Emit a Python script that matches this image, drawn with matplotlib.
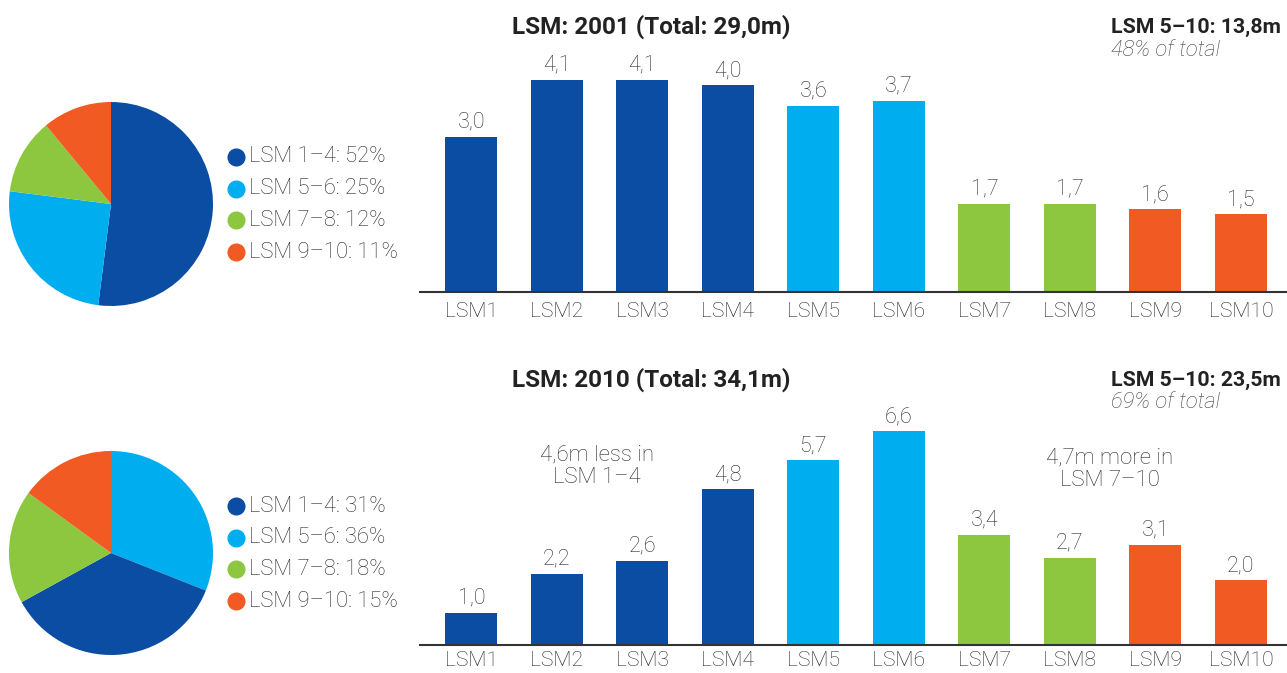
import matplotlib.pyplot as plt
from matplotlib.lines import Line2D

plt.rcParams['font.family'] = ['Roboto', 'DejaVu Sans']

DARK = '#0B4DA2'
LIGHT = '#00AEEF'
GREEN = '#8DC63F'
ORANGE = '#F15A22'
GREY = '#2b2b2b'

categories = ['LSM1', 'LSM2', 'LSM3', 'LSM4', 'LSM5', 'LSM6', 'LSM7', 'LSM8', 'LSM9', 'LSM10']
bar_colors = [DARK] * 4 + [LIGHT] * 2 + [GREEN] * 2 + [ORANGE] * 2

values_2001 = [3.0, 4.1, 4.1, 4.0, 3.6, 3.7, 1.7, 1.7, 1.6, 1.5]
values_2010 = [1.0, 2.2, 2.6, 4.8, 5.7, 6.6, 3.4, 2.7, 3.1, 2.0]

groups = ['LSM 1–4', 'LSM 5–6', 'LSM 7–8', 'LSM 9–10']
group_colors = [DARK, LIGHT, GREEN, ORANGE]
share_2001 = [52, 25, 12, 11]
share_2010 = [31, 36, 18, 15]
# the 2010 pie in the source draws its first two wedges with swapped colours
wedge_colors_2010 = [LIGHT, DARK, GREEN, ORANGE]

W, H = 1287, 673
fig = plt.figure(figsize=(W / 100, H / 100), dpi=100)


def px_axes(left, top, right, bottom):
    return fig.add_axes([left / W, 1 - bottom / H, (right - left) / W, (bottom - top) / H])


def bar_panel(top, base, ymax, values, pad):
    ax = px_axes(420, top, 1287, base)
    x = range(len(categories))
    bars = ax.bar(x, values, width=0.61, color=bar_colors)
    for b, v in zip(bars, values):
        ax.annotate(f'{v:.1f}'.replace('.', ','), (b.get_x() + b.get_width() / 2, v),
                    xytext=(0, 3), textcoords='offset points', ha='center', va='bottom',
                    fontsize=15.5, color=GREY, fontweight='light')
    ax.set_xlim(-0.6, 9.54)
    ax.set_ylim(0, ymax)
    ax.set_xticks(list(x))
    ax.set_xticklabels(categories, fontsize=15.2, color=GREY, fontweight='light')
    ax.tick_params(axis='x', length=0, pad=pad)
    ax.set_yticks([])
    for s in ['top', 'left', 'right']:
        ax.spines[s].set_visible(False)
    ax.spines['bottom'].set_color('#333333')
    ax.spines['bottom'].set_linewidth(1.5)
    return ax


def pie_panel(cy, shares, colors):
    ax = px_axes(9, cy - 102, 213, cy + 102)
    ax.pie(shares, colors=colors, startangle=90, counterclock=False, radius=1,
           wedgeprops=dict(linewidth=0))
    ax.set_xlim(-1, 1)
    ax.set_ylim(-1, 1)
    ax.set_aspect('equal')
    ax.axis('off')


bar_panel(20, 292, 272 / 51.7, values_2001, 7)
bar_panel(360, 645, 285 / 32.4, values_2010, 4.5)

pie_panel(204, share_2001, group_colors)
pie_panel(553, share_2010, wedge_colors_2010)


def legend(shares, top):
    for i, (g, s, c) in enumerate(zip(groups, shares, group_colors)):
        y = 1 - (top + i * 31.7) / H
        fig.add_artist(Line2D([236 / W], [y], marker='o', markersize=12, color=c,
                              linestyle='', transform=fig.transFigure))
        fig.text(249 / W, y, f'{g}: {s}%', fontsize=15.8, color=GREY,
                 va='center', ha='left', fontweight='light')


legend(share_2001, 157)
legend(share_2010, 506)


def ftext(x, y, s, **kw):
    fig.text(x / W, 1 - y / H, s, va='center', color=kw.pop('color', '#222222'), **kw)


ftext(512, 27, 'LSM: 2001 (Total: 29,0m)', fontsize=17.5, fontweight='bold')
ftext(1111, 27, 'LSM 5–10: 13,8m', fontsize=15.3, fontweight='bold')
ftext(1111, 50, '48% of total', fontsize=15.8, style='italic', color='#444444', fontweight='light')

ftext(512, 380, 'LSM: 2010 (Total: 34,1m)', fontsize=17.5, fontweight='bold')
ftext(1111, 380, 'LSM 5–10: 23,5m', fontsize=15.3, fontweight='bold')
ftext(1111, 402, '69% of total', fontsize=15.8, style='italic', color='#444444', fontweight='light')

ftext(597, 466, '4,6m less in\nLSM 1–4', fontsize=16, ha='center', color=GREY,
      fontweight='light', linespacing=1.1)
ftext(1110, 469, '4,7m more in\nLSM 7–10', fontsize=16, ha='center', color=GREY,
      fontweight='light', linespacing=1.1)

fig.savefig('out.png', dpi=100)
